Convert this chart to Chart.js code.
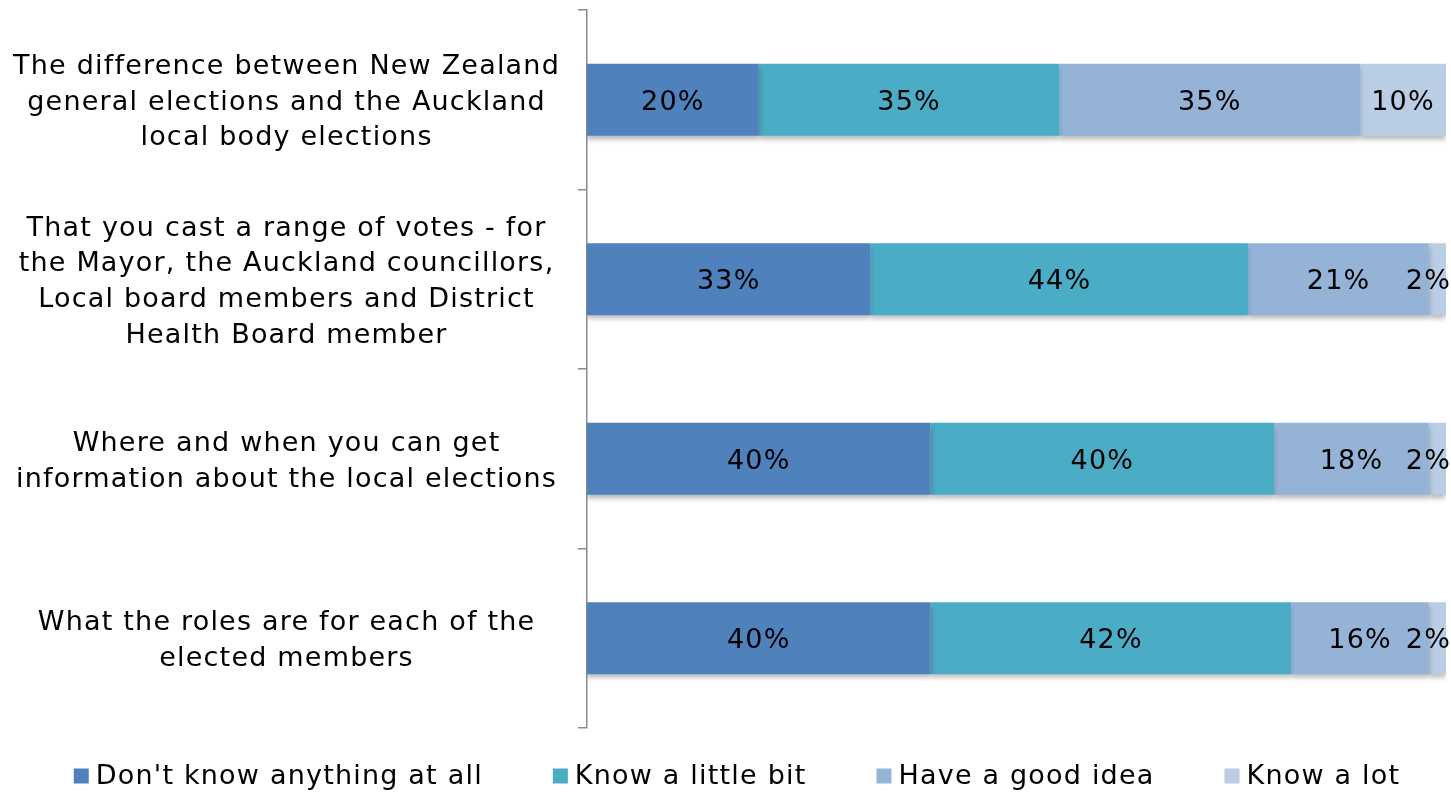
<!DOCTYPE html>
<html>
<head>
<meta charset="utf-8">
<script src="https://cdn.jsdelivr.net/npm/chart.js@4"></script>
<style>
  html, body { margin: 0; padding: 0; background: #fff; }
  #wrap { width: 1451px; height: 792px; position: relative; }
</style>
</head>
<body>
<div id="wrap"><canvas id="knowledgeChart"></canvas></div>
<script>
// --- Survey data ---
const statements = [
    ['The difference between New Zealand', 'general elections and the Auckland', 'local body elections'],
    ['That you cast a range of votes - for', 'the Mayor, the Auckland councillors,', 'Local board members and District', 'Health Board member'],
    ['Where and when you can get', 'information about the local elections'],
    ['What the roles are for each of the', 'elected members']
];
const seriesNames = ["Don't know anything at all", 'Know a little bit', 'Have a good idea', 'Know a lot'];
const dontKnow = [20, 33, 40, 40];
const knowLittle = [35, 44, 40, 42];
const goodIdea = [35, 21, 18, 16];
const knowLot = [10, 2, 2, 2];
const seriesColors = ['#4F81BD', '#4BACC6', '#95B3D7', '#B9CDE5'];

const FONT = 'DejaVu Sans, Verdana, sans-serif';
const FONT_SIZE = 27;
const SPACING = '1.2px';

// wider tracking for all text on the canvas (set again after any resize resets the context)
const textTracking = {
    id: 'textTracking',
    beforeUpdate(chart) { chart.ctx.letterSpacing = SPACING; },
    beforeDraw(chart) { chart.ctx.letterSpacing = SPACING; }
};

// soft drop shadow under the bars
const barShadow = {
    id: 'barShadow',
    beforeDatasetsDraw(chart) {
        const ctx = chart.ctx;
        ctx.save();
        ctx.shadowColor = 'rgba(0,0,0,0.28)';
        ctx.shadowBlur = 5;
        ctx.shadowOffsetY = 4;
    },
    afterDatasetsDraw(chart) {
        chart.ctx.restore();
    }
};

// percentage labels in the middle of each segment
const segmentLabels = {
    id: 'segmentLabels',
    afterDatasetsDraw(chart) {
        const ctx = chart.ctx;
        ctx.save();
        ctx.font = FONT_SIZE + 'px ' + FONT;
        ctx.fillStyle = '#000';
        ctx.textBaseline = 'middle';
        ctx.textAlign = 'center';
        chart.data.datasets.forEach((ds, i) => {
            chart.getDatasetMeta(i).data.forEach((bar, j) => {
                const text = ds.data[j] + '%';
                const p = bar.getCenterPoint();
                const w = ctx.measureText(text).width;
                let x = p.x;
                if (x + w / 2 > chart.width) x = chart.width - w / 2;
                ctx.fillText(text, x, p.y + 3);
            });
        });
        ctx.restore();
    }
};

// legend row under the plot: square swatch + series name
const bottomLegend = {
    id: 'bottomLegend',
    afterDraw(chart) {
        const ctx = chart.ctx;
        const box = 15, gap = 7, itemGap = 70, centerX = 737, centerY = 776;
        ctx.save();
        ctx.font = FONT_SIZE + 'px ' + FONT;
        ctx.textBaseline = 'middle';
        ctx.textAlign = 'left';
        const widths = seriesNames.map(n => ctx.measureText(n).width);
        const total = widths.reduce((s, w) => s + box + gap + w, 0) + itemGap * (seriesNames.length - 1);
        let x = centerX - total / 2;
        seriesNames.forEach((name, i) => {
            ctx.fillStyle = seriesColors[i];
            ctx.fillRect(x, centerY - box / 2, box, box);
            ctx.fillStyle = '#000';
            ctx.fillText(name, x + box + gap, centerY + 1);
            x += box + gap + widths[i] + itemGap;
        });
        ctx.restore();
    }
};

const datasets = [dontKnow, knowLittle, goodIdea, knowLot].map((values, i) => ({
    label: seriesNames[i],
    data: values,
    backgroundColor: seriesColors[i],
    borderWidth: 0,
    barPercentage: 0.4,
    categoryPercentage: 1
}));

new Chart(document.getElementById('knowledgeChart'), {
    type: 'bar',
    data: { labels: statements, datasets },
    plugins: [textTracking, barShadow, segmentLabels, bottomLegend],
    options: {
        indexAxis: 'y',
        responsive: true,
        maintainAspectRatio: false,
        animation: false,
        layout: { padding: { top: 10, right: 5, left: 10, bottom: 64 } },
        scales: {
            x: { stacked: true, min: 0, max: 100, display: false },
            y: {
                stacked: true,
                afterFit(scale) {
                    scale.width = 577;
                    scale.paddingTop = 0;
                    scale.paddingBottom = 0;
                    // nudge the statement text a few pixels down
                    if (!scale._nudged) {
                        const drawLabels = scale.drawLabels;
                        scale.drawLabels = function (area) {
                            this.ctx.save();
                            this.ctx.translate(0, 3);
                            drawLabels.call(this, area);
                            this.ctx.restore();
                        };
                        scale._nudged = true;
                    }
                },
                border: { display: true, color: '#8c8c8c', width: 1.5 },
                grid: {
                    offset: true,
                    drawOnChartArea: false,
                    drawTicks: true,
                    tickLength: 9,
                    color: '#8c8c8c',
                    lineWidth: 1.5
                },
                ticks: {
                    crossAlign: 'center',
                    padding: 18,
                    color: '#000',
                    font: { family: FONT, size: FONT_SIZE, lineHeight: 1.32 }
                }
            }
        },
        plugins: {
            legend: { display: false },
            tooltip: { enabled: false }
        }
    }
});
</script>
</body>
</html>
